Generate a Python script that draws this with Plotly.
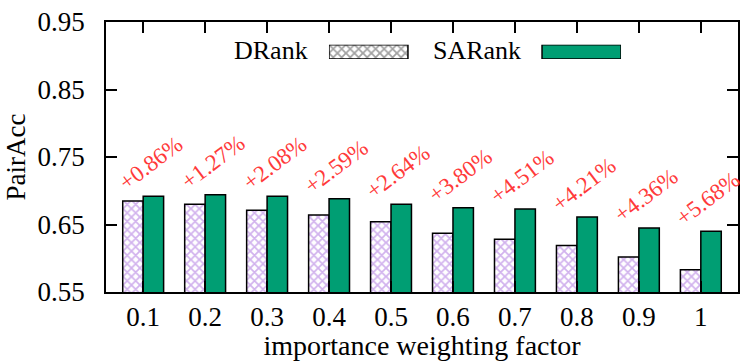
import plotly.graph_objects as go

# Importance weighting factor sweep
factors = ["0.1", "0.2", "0.3", "0.4", "0.5", "0.6", "0.7", "0.8", "0.9", "1"]
drank = [0.685, 0.680, 0.671, 0.664, 0.654, 0.637, 0.628, 0.619, 0.602, 0.583]
sarank = [0.692, 0.694, 0.692, 0.688, 0.680, 0.675, 0.673, 0.661, 0.645, 0.640]
gains = ["+0.86%", "+1.27%", "+2.08%", "+2.59%", "+2.64%",
         "+3.80%", "+4.51%", "+4.21%", "+4.36%", "+5.68%"]

SERIF = "Liberation Serif, Times New Roman, serif"
PURPLE = "#a466dc"
GREEN = "#009E73"
RED = "#ff3a3a"

hatch = dict(shape="x", fgcolor=PURPLE, bgcolor="white", size=6, solidity=0.5)

fig = go.Figure()
fig.add_trace(go.Bar(
    x=factors, y=drank, name="DRank",
    marker=dict(color="white", pattern=hatch, line=dict(color="black", width=1.5)),
    showlegend=False,
))
fig.add_trace(go.Bar(
    x=factors, y=sarank, name="SARank",
    marker=dict(color=GREEN, line=dict(color="black", width=1.5)),
    showlegend=False,
))

# Relative improvement labels above each pair
for i, (s, g) in enumerate(zip(sarank, gains)):
    fig.add_annotation(
        x=i + 0.12, y=s + 0.048, xref="x", yref="y",
        text=g, showarrow=False, textangle=-37,
        font=dict(family=SERIF, size=23, color=RED),
    )

# Legend row: keys drawn on a small overlay axis pair
fig.add_trace(go.Bar(
    x=[0.1352, 0.8648], y=[1, 1], width=[0.2705, 0.2705],
    xaxis="x2", yaxis="y2", showlegend=False, hoverinfo="skip",
    marker=dict(
        color=["white", GREEN],
        pattern=dict(shape=["x", ""], fgcolor=PURPLE, bgcolor="white", size=6, solidity=0.5),
        line=dict(color="black", width=1.5),
    ),
))
for label, xr in (("DRank", 0.3228), ("SARank", 0.6598)):
    fig.add_annotation(
        x=xr, y=0.893, xref="paper", yref="paper", xanchor="right", yanchor="middle",
        text=label, showarrow=False, font=dict(family=SERIF, size=26, color="black"),
    )

fig.update_layout(
    width=747, height=361,
    margin=dict(l=106, r=9, t=22, b=69),
    paper_bgcolor="white", plot_bgcolor="white",
    barmode="group", bargap=0.34, bargroupgap=0,
    font=dict(family=SERIF, size=27, color="black"),
    xaxis=dict(
        type="category", range=[-0.6, 9.6], automargin=False,
        showline=True, linecolor="black", linewidth=1.5, mirror="ticks",
        ticks="inside", ticklen=11, tickwidth=1.5, tickcolor="black",
        showgrid=False, zeroline=False,
        tickfont=dict(family=SERIF, size=27),
        title=dict(text="importance weighting factor", font=dict(family=SERIF, size=28), standoff=8),
    ),
    yaxis=dict(
        range=[0.55, 0.95], tick0=0.55, dtick=0.1, tickformat=".2f", automargin=False,
        showline=True, linecolor="black", linewidth=1.5, mirror="ticks",
        ticks="inside", ticklen=11, tickwidth=1.5, tickcolor="black",
        showgrid=False, zeroline=False, ticklabelstandoff=14,
        tickfont=dict(family=SERIF, size=27),
        title=dict(text="PairAcc", font=dict(family=SERIF, size=27), standoff=4),
    ),
    xaxis2=dict(domain=[0.3528, 0.8149], range=[0, 1], anchor="y2", visible=False, fixedrange=True),
    yaxis2=dict(domain=[0.863, 0.916], range=[0, 1], anchor="x2", visible=False, fixedrange=True),
)

fig.write_html("out.html")
